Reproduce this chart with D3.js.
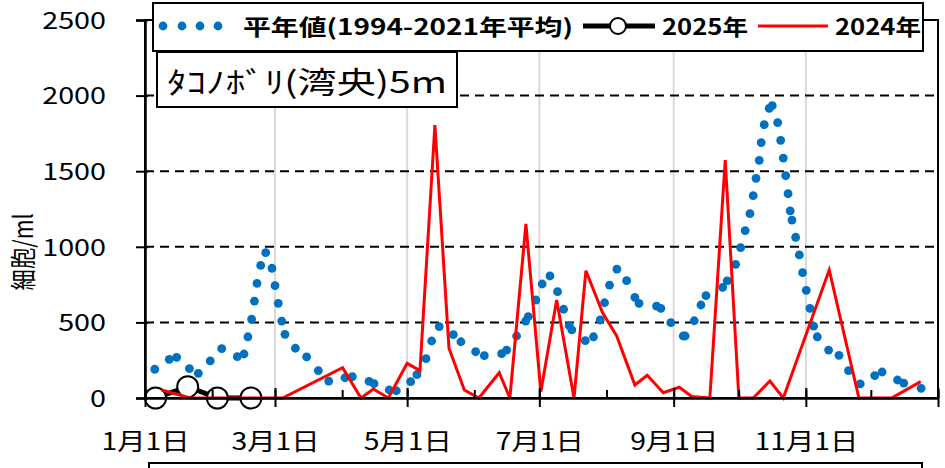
<!DOCTYPE html>
<html>
<head>
<meta charset="utf-8">
<script src="https://cdn.jsdelivr.net/npm/d3@7"></script>
<style>
    body { margin: 0; background: #fff; }
    svg text { font-family: "Noto Sans CJK JP", "Noto Sans", sans-serif; fill: #000; }
</style>
</head>
<body>
<svg id="chart" width="945" height="468"></svg>
<script>
// day of year (0 = Jan 1) and cells/ml
var normDay = [4.5, 11.2, 14.6, 20.5, 24.6, 30.1, 35.4, 42.6, 45.7, 47.5, 49.2, 50.5, 51.7, 53.4, 55.7,
    58.6, 60, 61.5, 63.1, 64.6, 69.4, 74.6, 80, 84.8, 92.3, 95.7, 103.4, 105.7, 112.7, 116,
    122.6, 125.5, 129.7, 132.3, 135.8, 142.3, 145.8, 152.6, 156.6, 164.6, 166.9, 171.5, 175.7, 176.9, 180.4,
    183.3, 186.9, 190.4, 193.2, 195.8, 197, 203.2, 207, 210.1, 212.1, 214.4, 217.8, 222.3, 226.1, 228,
    236.1, 238.1, 242.7, 248.4, 249.3, 253.5, 256.6, 258.9, 266.6, 268.7, 272.6, 274.9, 277, 279.2, 280.7,
    282, 283.5, 284.4, 285.8, 288.1, 289.5, 292, 293.4, 294.6, 295.7, 296.8, 297.8, 298.6, 300.3, 302,
    303.5, 305.2, 306.9, 308.6, 310.3, 315.5, 320.3, 324.7, 330.1, 336.8, 340.2, 347.3, 350.2, 358.2];
var normVal = [190, 256, 269, 194, 163, 245, 326, 273, 291, 405, 522, 641, 758, 877, 961,
    858, 743, 626, 509, 421, 329, 272, 181, 112, 134, 141, 110, 95, 53, 48,
    108, 154, 260, 377, 472, 419, 372, 306, 280, 293, 317, 410, 509, 538, 648,
    754, 807, 703, 587, 478, 450, 379, 405, 516, 630, 747, 853, 776, 666, 626,
    608, 593, 498, 410, 410, 511, 615, 677, 732, 774, 884, 994, 1107, 1219, 1338,
    1453, 1572, 1689, 1808, 1916, 1933, 1821, 1704, 1587, 1470, 1351, 1237, 1177, 1063, 946,
    829, 712, 593, 476, 405, 317, 282, 181, 93, 148, 172, 119, 99, 64];

var y2025Day = [4.9, 19.7, 33.4, 48.9];
var y2025Val = [0, 75, 0, 0];

var y2024Day = [7.7, 20.8, 35, 49, 63.5, 91.2, 99.7, 105.4, 112.3, 121, 126.9, 133.8, 140.3, 147.4, 154.1,
    163.5, 168.4, 175.8, 182.7, 190, 198, 203.5, 211.2, 217.7, 226.1, 231.8, 239.2, 246.6, 252.3, 260.7,
    267.8, 274.1, 280.7, 288.4, 294.6, 315.8, 329.5, 344.6, 358];
var y2024Val = [53, 0, 0, 0, 0, 200, 0, 60, 0, 229, 181, 1805, 329, 53, 0,
    167, 0, 1151, 42, 648, 0, 842, 564, 410, 86, 150, 35, 71, 10, 0,
    1574, 0, 0, 112, 0, 847, 0, 0, 108];

var yTicks = [0, 500, 1000, 1500, 2000, 2500];
var yGrid = [500, 1000, 1500, 2000];
var legendLabels = ['平年値(1994-2021年平均)', '2025年', '2024年'];
var titleText = 'ﾀｺﾉﾎﾞﾘ(湾央)5m';
var yTitle = '細胞/ml';

/** Class drawing the cell count chart. */
class CellChart {
    constructor() {
        this.svg = d3.select('#chart');
        this.start = Date.UTC(2024, 0, 1);
        this.x = d3.scaleUtc()
            .domain([new Date(this.start), new Date(Date.UTC(2025, 0, 1))])
            .range([145, 938]);
        this.y = d3.scaleLinear().domain([0, 2500]).range([398, 20]);
    }

    /** turn a day-of-year into a Date */
    toDate(d) {
        return new Date(this.start + d * 864e5);
    }

    /** widen text horizontally, the picture is stretched */
    stretch(sel, k) {
        sel.each(function () {
            var w = this.getComputedTextLength();
            d3.select(this).attr('textLength', w * k).attr('lengthAdjust', 'spacingAndGlyphs');
        });
    }

    drawGrid() {
        var g = this.svg.append('g');
        g.selectAll('line.v')
            .data(this.x.ticks(d3.utcMonth.every(2)).slice(1, -1))
            .enter().append('line')
            .attr('x1', d => this.x(d)).attr('x2', d => this.x(d))
            .attr('y1', this.y(2500)).attr('y2', this.y(0))
            .style('stroke', '#d9d9d9').style('stroke-width', 2);

        g.selectAll('line.h')
            .data(yGrid)
            .enter().append('line')
            .attr('x1', this.x.range()[0]).attr('x2', this.x.range()[1])
            .attr('y1', d => this.y(d)).attr('y2', d => this.y(d))
            .style('stroke', '#000').style('stroke-width', 2).style('stroke-dasharray', '9,6');
    }

    drawAxes() {
        var x0 = this.x.range()[0], x1 = this.x.range()[1];

        // plot frame
        this.svg.append('rect')
            .attr('x', x0).attr('y', this.y(2500))
            .attr('width', x1 - x0).attr('height', this.y(0) - this.y(2500))
            .style('fill', 'none').style('stroke', '#000').style('stroke-width', 2);

        var yAxis = this.svg.append('g')
            .attr('transform', 'translate(' + x0 + ',0)')
            .call(d3.axisLeft(this.y).tickValues(yTicks).tickFormat(d3.format('d'))
                .tickSize(9).tickPadding(30));
        yAxis.select('.domain').style('stroke-width', 2.5);
        yAxis.selectAll('.tick line').attr('x1', 3).style('stroke-width', 2);
        yAxis.selectAll('.tick text')
            .attr('font-size', 23).attr('font-family', null).attr('dy', '0.36em');
        this.stretch(yAxis.selectAll('.tick text'), 1.25);

        // minor monthly ticks inside
        var xMinor = this.svg.append('g')
            .attr('transform', 'translate(0,' + this.y(0) + ')')
            .call(d3.axisBottom(this.x).ticks(d3.utcMonth.every(1)).tickSize(-8).tickFormat(''));
        xMinor.select('.domain').remove();
        xMinor.selectAll('.tick line').style('stroke-width', 2);

        var xAxis = this.svg.append('g')
            .attr('transform', 'translate(0,' + this.y(0) + ')')
            .call(d3.axisBottom(this.x)
                .ticks(d3.utcMonth.every(2))
                .tickSize(9)
                .tickSizeOuter(0)
                .tickFormat(d3.utcFormat('%-m月%-d日')));
        xAxis.select('.domain').style('stroke-width', 2.5);
        xAxis.selectAll('.tick line').attr('y1', -10).style('stroke-width', 2);
        xAxis.selectAll('.tick text')
            .filter(d => d.getUTCFullYear() > 2024).remove();
        xAxis.selectAll('.tick text')
            .attr('font-size', 24).attr('font-family', null)
            .attr('y', 52).attr('dy', 0);
        this.stretch(xAxis.selectAll('.tick text'), 1.18);

        this.svg.append('text')
            .attr('transform', 'translate(33,252) scale(1.2,1) rotate(-90)')
            .attr('text-anchor', 'middle')
            .attr('font-size', 22)
            .attr('textLength', 77).attr('lengthAdjust', 'spacingAndGlyphs')
            .text(yTitle);
    }

    drawSeries() {
        var norm = normDay.map((d, i) => [this.toDate(d), normVal[i]]);
        var s2025 = y2025Day.map((d, i) => [this.toDate(d), y2025Val[i]]);
        var s2024 = y2024Day.map((d, i) => [this.toDate(d), y2024Val[i]]);
        var line = d3.line().x(d => this.x(d[0])).y(d => this.y(d[1]));

        this.svg.append('g').selectAll('circle')
            .data(norm)
            .enter().append('circle')
            .attr('cx', d => this.x(d[0]))
            .attr('cy', d => this.y(d[1]))
            .attr('r', 4.4)
            .style('fill', '#0070c0');

        this.svg.append('path')
            .datum(s2025)
            .attr('d', line)
            .style('fill', 'none').style('stroke', '#000').style('stroke-width', 5);

        this.svg.append('g').selectAll('circle')
            .data(s2025)
            .enter().append('circle')
            .attr('cx', d => this.x(d[0]))
            .attr('cy', d => this.y(d[1]))
            .attr('r', 10.5)
            .style('fill', '#fff').style('stroke', '#000').style('stroke-width', 2);

        this.svg.append('path')
            .datum(s2024)
            .attr('d', line)
            .style('fill', 'none').style('stroke', '#ff0000').style('stroke-width', 3)
            .style('stroke-linejoin', 'miter');
    }

    drawLegend() {
        var g = this.svg.append('g');
        g.append('rect')
            .attr('x', 153).attr('y', 3).attr('width', 770).attr('height', 48)
            .style('fill', '#fff').style('stroke', '#000').style('stroke-width', 2);

        g.selectAll('circle.dot')
            .data([163, 182, 200, 218])
            .enter().append('circle')
            .attr('cx', d => d).attr('cy', 26).attr('r', 4.4)
            .style('fill', '#0070c0');

        g.append('line')
            .attr('x1', 583).attr('x2', 655).attr('y1', 26).attr('y2', 26)
            .style('stroke', '#000').style('stroke-width', 5);
        g.append('circle')
            .attr('cx', 618).attr('cy', 26).attr('r', 8)
            .style('fill', '#fff').style('stroke', '#000').style('stroke-width', 2);

        g.append('line')
            .attr('x1', 758).attr('x2', 828).attr('y1', 26).attr('y2', 26)
            .style('stroke', '#ff0000').style('stroke-width', 3);

        var pos = [[243, 330], [662, 86], [835, 86]];
        g.selectAll('text')
            .data(legendLabels)
            .enter().append('text')
            .attr('x', (d, i) => pos[i][0])
            .attr('y', 35)
            .attr('font-size', 22)
            .attr('font-weight', 'bold')
            .attr('textLength', (d, i) => pos[i][1])
            .attr('lengthAdjust', 'spacingAndGlyphs')
            .text(d => d);

        // title box
        g.append('rect')
            .attr('x', 157).attr('y', 52).attr('width', 300).attr('height', 55)
            .style('fill', '#fff').style('stroke', '#000').style('stroke-width', 2);
        g.append('text')
            .attr('x', 167).attr('y', 93)
            .attr('font-size', 30)
            .attr('textLength', 280).attr('lengthAdjust', 'spacingAndGlyphs')
            .text(titleText);

        // box cut off at the bottom of the picture
        this.svg.append('rect')
            .attr('x', 149).attr('y', 463).attr('width', 773).attr('height', 30)
            .style('fill', '#fff').style('stroke', '#000').style('stroke-width', 2);
    }
}

var chart = new CellChart();
chart.drawGrid();
chart.drawSeries();
chart.drawAxes();
chart.drawLegend();
</script>
</body>
</html>
